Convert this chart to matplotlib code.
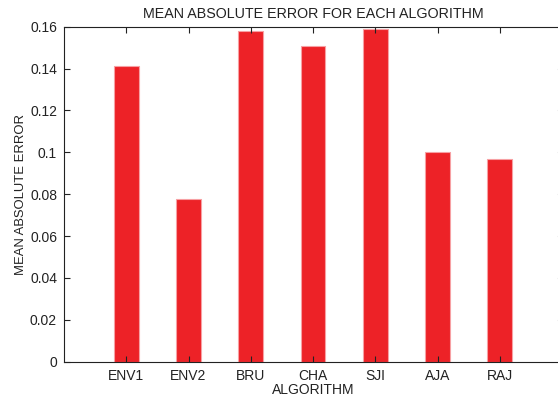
import matplotlib.pyplot as plt

algorithms = ['ENV1', 'ENV2', 'BRU', 'CHA', 'SJI', 'AJA', 'RAJ']
mae = [0.141, 0.0775, 0.158, 0.151, 0.159, 0.100, 0.097]

plt.rcParams['font.family'] = ['Liberation Sans', 'DejaVu Sans']
plt.rcParams['font.size'] = 10

fig = plt.figure(figsize=(5.58, 3.98), dpi=100)
# right edge of the axes box sits just past the figure border
ax = fig.add_axes([64 / 558, 1 - 361.7 / 398, 498 / 558, 335 / 398])

pos = range(1, len(algorithms) + 1)
ax.bar(pos, mae, width=0.4, color='#ed2227', edgecolor='#f7a0a3', linewidth=0.8)

ax.set_xlim(0, 8)
ax.set_ylim(0, 0.16)
ax.set_xticks(list(pos))
ax.set_xticklabels(algorithms)
ax.set_yticks([0, 0.02, 0.04, 0.06, 0.08, 0.1, 0.12, 0.14, 0.16])
ax.set_yticklabels(['0', '0.02', '0.04', '0.06', '0.08', '0.1', '0.12', '0.14', '0.16'])
ax.tick_params(direction='in', top=True, right=False, length=4, width=0.8, pad=5, colors='#222222')
for s in ax.spines.values():
    s.set_color('#222222')
    s.set_linewidth(0.8)
ax.spines['right'].set_visible(False)

# short stubs for the right-hand ticks, just inside the figure border
for t in ax.get_yticks():
    ax.plot([7.93, 8.0], [t, t], color='#222222', lw=0.8, clip_on=False)

ax.set_title('MEAN ABSOLUTE ERROR FOR EACH ALGORITHM', fontsize=10.3, pad=6, color='#222222')
ax.set_xlabel('ALGORITHM', labelpad=0, color='#222222')
ax.set_ylabel('MEAN ABSOLUTE ERROR', fontsize=9.4, labelpad=2, color='#222222')

fig.savefig('out.png', dpi=100)
